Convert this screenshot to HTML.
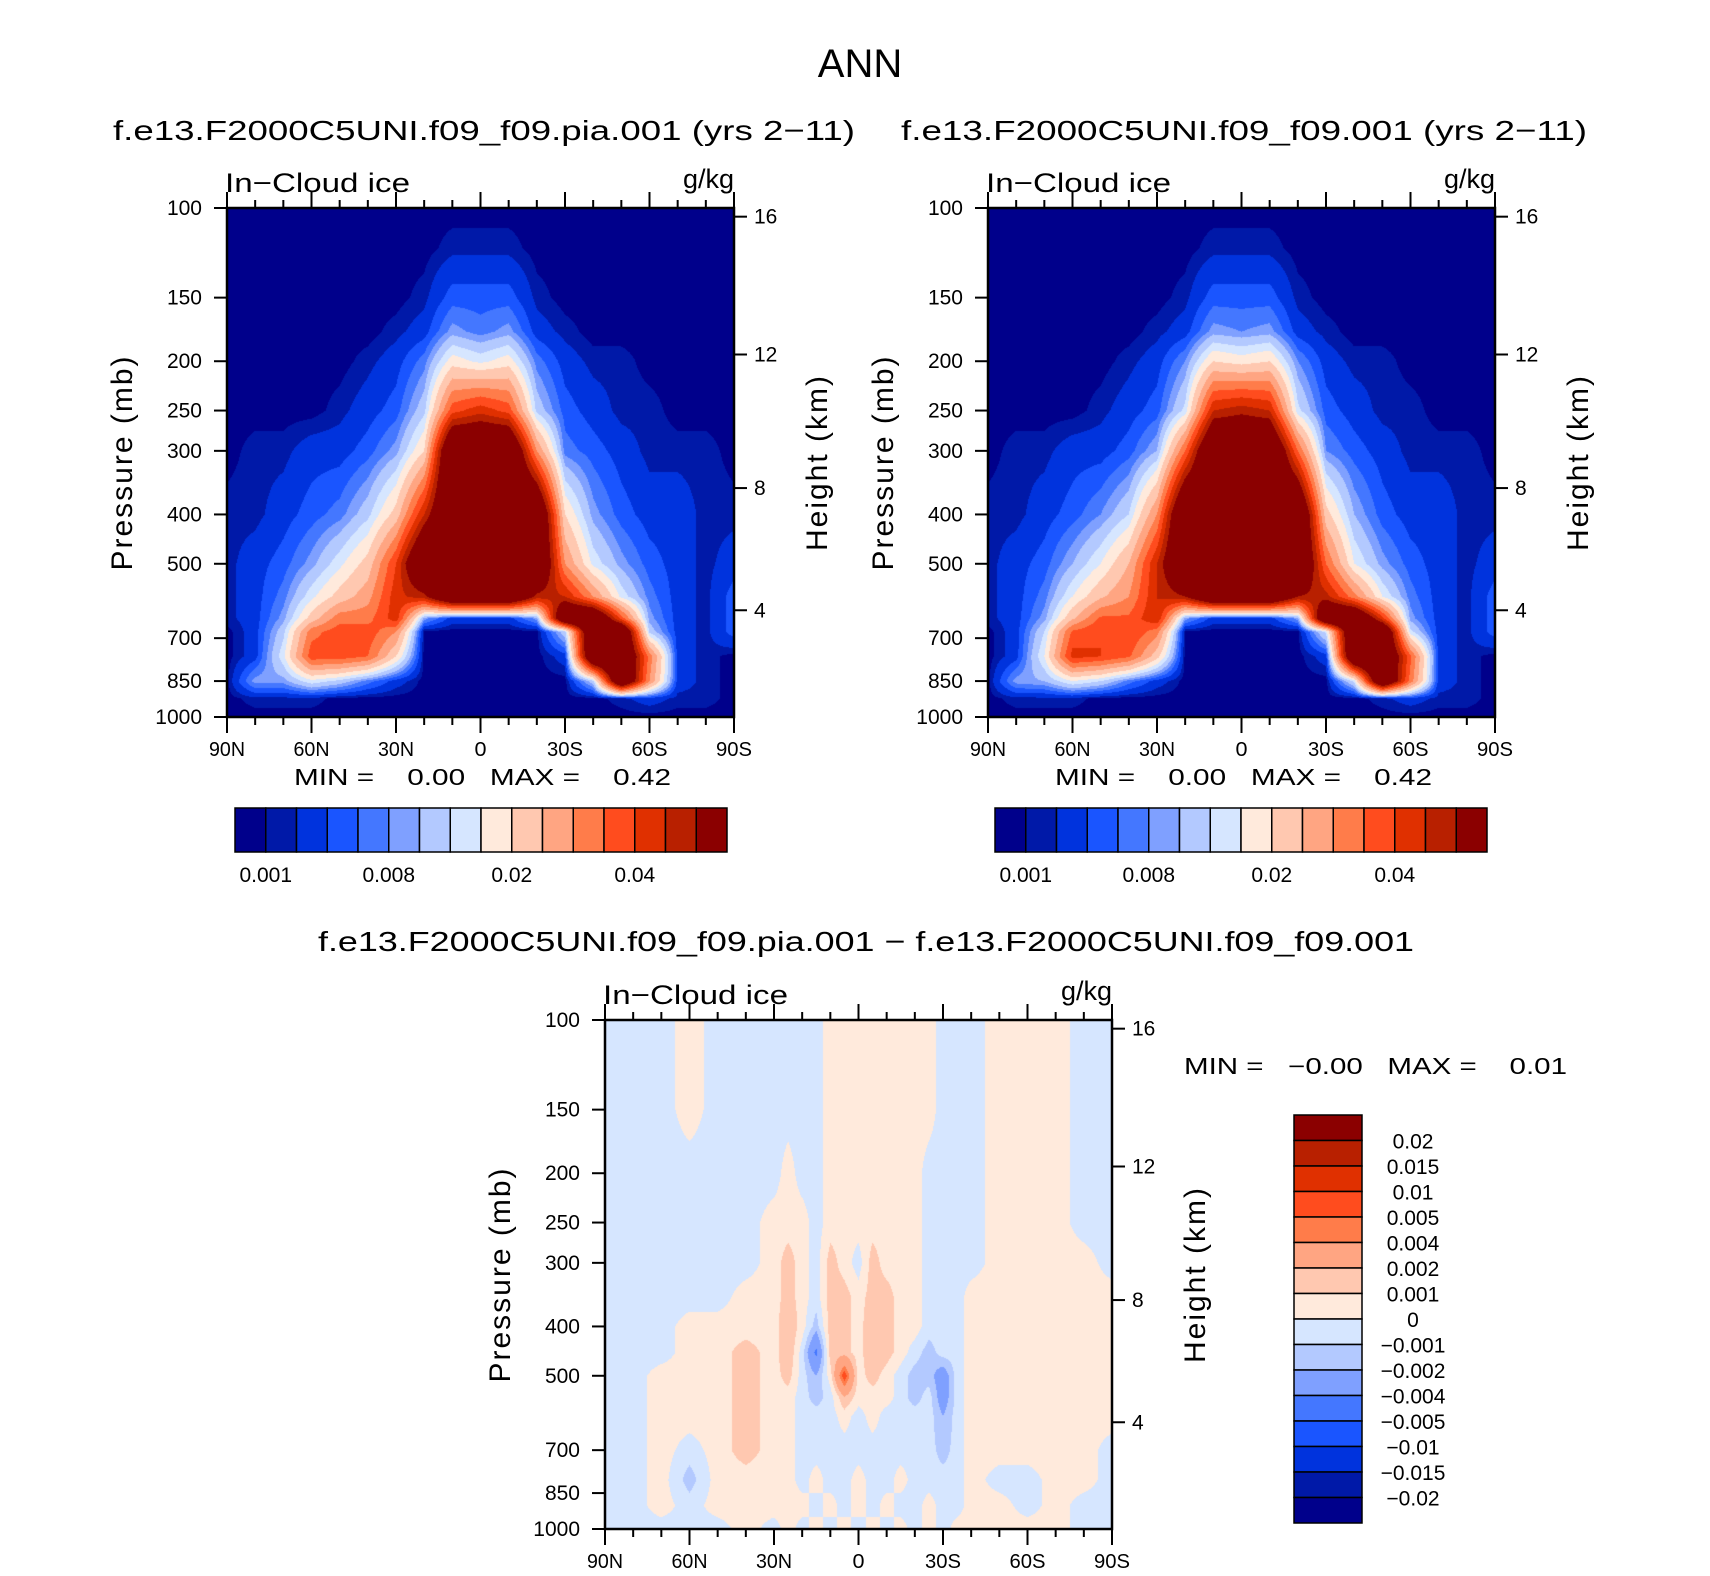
<!DOCTYPE html>
<html><head><meta charset="utf-8">
<style>
html,body{margin:0;padding:0;background:#fff;}
#root{position:relative;width:1710px;height:1576px;overflow:hidden;font-family:"Liberation Sans",sans-serif;}
canvas{position:absolute;}
svg{position:absolute;left:0;top:0;}
</style></head>
<body>
<div id="root">
<canvas id="c1" width="507" height="509" style="left:227px;top:208px"></canvas>
<canvas id="c2" width="507" height="509" style="left:988px;top:208px"></canvas>
<canvas id="c3" width="507" height="509" style="left:605px;top:1020px"></canvas>
<svg id="ov" width="1710" height="1576"></svg>
</div>
<script>
// ---------- data ----------
const palette = ["#00008b","#0019a8","#0033dd","#1a55ff","#4477ff","#7fa0ff","#b3c9ff","#d6e6ff","#ffeadc","#ffc8b0","#ffa582","#ff7c4a","#ff4c1e","#e03000","#b82000","#8b0000"];
const levelsMain = [0.001,0.002,0.004,0.006,0.008,0.01,0.013,0.016,0.02,0.025,0.03,0.035,0.04,0.045,0.05];
const levelsDiff = [-0.02,-0.015,-0.01,-0.005,-0.004,-0.002,-0.001,0,0.001,0.002,0.004,0.005,0.01,0.015,0.02];
const mainTickLabels = ["0.001","0.008","0.02","0.04"];
const mainTickIdx = [1,5,9,13];
const diffLabels = ["0.02","0.015","0.01","0.005","0.004","0.002","0.001","0","\u22120.001","\u22120.002","\u22120.004","\u22120.005","\u22120.01","\u22120.015","\u22120.02"];
const latTickLabels = ["90N","60N","30N","0","30S","60S","90S"];
const latTicks = [90,60,30,0,-30,-60,-90];
const presTicks = [100,150,200,250,300,400,500,700,850,1000];
const heightTicks = [16,12,8,4];
const heightPres = [104,194,355,617];
const latsMain = [90,80,70,60,50,40,30,20,10,0,-10,-20,-30,-40,-50,-60,-70,-80,-90];
const presMain = [100,120,150,175,200,250,300,400,500,580,640,680,760,850,920,1000];
const z=0.0005;
const fieldPia = [
[z,z,z,z,z,z,z,z,z,z,z,z,z,z,z,z,z,z,z],
[z,z,z,z,z,z,z,z,0.0015,0.0015,0.0015,z,z,z,z,z,z,z,z],
[z,z,z,z,z,z,z,0.0015,0.005,0.005,0.005,0.0015,z,z,z,z,z,z,z],
[z,z,z,z,z,z,0.0015,0.003,0.009,0.007,0.009,0.003,0.0015,z,z,z,z,z,z],
[z,z,z,z,z,0.0015,0.003,0.007,0.018,0.015,0.018,0.007,0.003,0.0015,0.0015,z,z,z,z],
[z,z,z,z,0.0015,0.003,0.005,0.012,0.038,0.043,0.038,0.012,0.005,0.003,0.0015,0.0015,z,z,z],
[z,0.0015,0.0015,0.003,0.003,0.005,0.009,0.02,0.07,0.07,0.07,0.03,0.007,0.005,0.003,0.0015,0.0015,0.0015,z],
[0.0015,0.0015,0.003,0.005,0.007,0.012,0.022,0.045,0.07,0.07,0.07,0.07,0.02,0.009,0.005,0.003,0.003,0.0015,0.0015],
[0.0015,0.003,0.005,0.009,0.015,0.022,0.04,0.07,0.07,0.07,0.07,0.07,0.03,0.015,0.009,0.005,0.003,0.0015,0.003],
[0.0015,0.003,0.007,0.015,0.022,0.028,0.043,0.048,0.07,0.07,0.07,0.048,0.045,0.03,0.015,0.007,0.003,0.0015,0.005],
[0.0015,0.003,0.009,0.022,0.033,0.033,0.043,0.009,0.003,0.003,0.003,0.009,0.07,0.07,0.038,0.009,0.003,0.0015,0.005],
[z,0.003,0.012,0.033,0.038,0.038,0.03,z,z,z,z,z,0.012,0.07,0.07,0.012,0.003,0.0015,0.005],
[z,0.003,0.015,0.038,0.038,0.035,0.02,z,z,z,z,z,0.003,0.07,0.07,0.033,0.003,0.0015,z],
[z,0.009,0.009,0.015,0.012,0.007,0.003,z,z,z,z,z,z,0.012,0.07,0.03,0.003,0.0015,z],
[z,0.0015,0.0015,0.0015,z,z,z,z,z,z,z,z,z,z,0.0015,0.003,0.0015,0.0015,z],
[z,z,z,z,z,z,z,z,z,z,z,z,z,z,z,z,z,z,z]];
const fieldCtl = [
[z,z,z,z,z,z,z,z,z,z,z,z,z,z,z,z,z,z,z],
[z,z,z,z,z,z,z,z,0.0015,0.0015,0.0015,z,z,z,z,z,z,z,z],
[z,z,z,z,z,z,z,0.0015,0.005,0.005,0.005,0.0015,z,z,z,z,z,z,z],
[z,z,z,z,z,z,0.0015,0.003,0.009,0.008,0.009,0.003,0.0015,z,z,z,z,z,z],
[z,z,z,z,z,0.0015,0.003,0.008,0.02,0.018,0.02,0.008,0.003,0.0015,0.0015,z,z,z,z],
[z,z,z,z,0.0015,0.003,0.005,0.014,0.045,0.048,0.045,0.014,0.005,0.003,0.0015,0.0015,z,z,z],
[z,0.0015,0.0015,0.003,0.003,0.005,0.01,0.035,0.07,0.07,0.07,0.035,0.008,0.005,0.003,0.0015,0.0015,0.0015,z],
[0.0015,0.0015,0.003,0.005,0.008,0.013,0.03,0.07,0.07,0.07,0.07,0.07,0.022,0.01,0.005,0.003,0.003,0.0015,0.0015],
[0.0015,0.003,0.005,0.01,0.016,0.025,0.045,0.07,0.07,0.07,0.07,0.07,0.035,0.016,0.009,0.005,0.003,0.0015,0.003],
[0.0015,0.003,0.007,0.016,0.024,0.03,0.045,0.05,0.07,0.07,0.07,0.05,0.047,0.032,0.016,0.007,0.003,0.0015,0.005],
[0.0015,0.003,0.009,0.024,0.036,0.036,0.045,0.009,0.003,0.003,0.003,0.009,0.07,0.07,0.042,0.009,0.003,0.0015,0.005],
[z,0.003,0.013,0.036,0.04,0.04,0.032,z,z,z,z,z,0.014,0.07,0.07,0.014,0.003,0.0015,0.005],
[z,0.003,0.016,0.042,0.04,0.036,0.022,z,z,z,z,z,0.003,0.07,0.07,0.036,0.003,0.0015,z],
[z,0.009,0.01,0.016,0.013,0.007,0.003,z,z,z,z,z,z,0.014,0.07,0.033,0.003,0.0015,z],
[z,0.0015,0.0015,0.0015,z,z,z,z,z,z,z,z,z,z,0.0015,0.003,0.0015,0.0015,z],
[z,z,z,z,z,z,z,z,z,z,z,z,z,z,z,z,z,z,z]];
const latsDiff = [90,80,70,60,50,40,30,25,20,15,10,5,0,-5,-10,-15,-20,-25,-30,-35,-40,-50,-60,-70,-80,-90];
const presDiff = [100,150,200,250,300,350,400,450,500,550,600,700,800,900,1000];
const b=-0.0005, w=0.0005;
const fieldDiff = [
[b,b,b,w,b,b,b,b,b,b,w,w,w,w,w,w,w,w,b,b,b,w,w,w,b,b],
[b,b,b,w,b,b,b,b,b,b,w,w,w,w,w,w,w,w,b,b,b,w,w,w,b,b],
[b,b,b,b,b,b,b,w,b,b,w,w,w,w,w,w,w,b,b,b,b,w,w,w,b,b],
[b,b,b,b,b,b,w,w,w,b,w,w,w,w,w,w,w,b,b,b,b,w,w,w,b,b],
[b,b,b,b,b,b,w,0.0015,w,b,0.0015,w,b,0.0015,w,w,w,b,b,b,b,w,w,w,w,b],
[b,b,b,b,b,w,w,0.0015,w,b,0.0015,0.0015,w,0.0015,0.0015,w,w,b,b,b,w,w,w,w,w,w],
[b,b,b,w,w,w,w,0.002,w,-0.0015,0.0015,0.0015,w,0.002,0.0015,w,w,b,b,b,w,w,w,w,w,w],
[b,b,b,w,w,0.0015,w,0.002,b,-0.0045,0.0015,0.0015,w,0.002,0.0015,w,b,-0.0015,b,b,w,w,w,w,w,w],
[b,b,w,w,w,0.0015,w,0.0015,b,-0.002,w,0.006,w,0.0015,w,b,-0.0015,-0.0015,-0.003,b,w,w,w,w,w,w],
[b,b,w,w,w,0.0015,w,w,b,-0.0015,b,0.002,w,w,w,b,-0.0015,b,-0.003,b,w,w,w,w,w,w],
[b,b,w,w,w,0.0015,w,w,b,b,b,w,b,w,b,b,b,b,-0.002,b,w,w,w,w,w,w],
[b,b,w,b,w,0.0015,w,w,b,b,b,b,b,b,b,b,b,b,-0.0015,b,w,w,w,w,w,b],
[b,b,w,-0.0015,w,w,w,w,b,w,b,b,w,b,b,w,b,b,b,b,w,b,b,w,w,b],
[b,b,w,b,w,w,w,w,w,b,w,b,w,b,w,b,b,w,b,b,w,w,b,w,b,b],
[b,b,b,b,b,w,b,w,b,w,b,w,b,w,b,w,b,w,b,w,w,w,w,w,b,b]];

// ---------- rendering ----------
function findIdx(arr, v){
  const inc = arr[arr.length-1] > arr[0];
  for(let i=0;i<arr.length-1;i++){
    const a=arr[i], c=arr[i+1];
    if(inc ? (v>=a && v<=c) : (v<=a && v>=c)) return [i,(v-a)/(c-a)];
  }
  return [arr.length-2,1];
}
function hexToRgb(h){return [parseInt(h.substr(1,2),16),parseInt(h.substr(3,2),16),parseInt(h.substr(5,2),16)];}
const palRgb = palette.map(hexToRgb);
function drawField(id, lats, pres, field, levels){
  const cv=document.getElementById(id), ctx=cv.getContext('2d');
  const W=cv.width, H=cv.height, img=ctx.createImageData(W,H);
  const logPres = pres.map(p=>Math.log10(p));
  for(let y=0;y<H;y++){
    const lp = 2 + (y+0.5)/H;
    const [pi,pf]=findIdx(logPres,lp);
    for(let x=0;x<W;x++){
      const lat = 90 - (x+0.5)/W*180;
      const [li,lf]=findIdx(lats,lat);
      const v = (field[pi][li]*(1-lf)+field[pi][li+1]*lf)*(1-pf) + (field[pi+1][li]*(1-lf)+field[pi+1][li+1]*lf)*pf;
      let k=0; while(k<levels.length && v>=levels[k]) k++;
      const c=palRgb[k], o=(y*W+x)*4;
      img.data[o]=c[0];img.data[o+1]=c[1];img.data[o+2]=c[2];img.data[o+3]=255;
    }
  }
  ctx.putImageData(img,0,0);
}
drawField('c1',latsMain,presMain,fieldPia,levelsMain);
drawField('c2',latsMain,presMain,fieldCtl,levelsMain);
drawField('c3',latsDiff,presDiff,fieldDiff,levelsDiff);

// ---------- svg overlay ----------
const NS='http://www.w3.org/2000/svg';
const ov=document.getElementById('ov');
function el(tag, attrs, parent){
  const e=document.createElementNS(NS,tag);
  for(const k in attrs) e.setAttribute(k,attrs[k]);
  (parent||ov).appendChild(e); return e;
}
function txt(s,x,y,size,anchor,name,extra){
  const t=el('text',Object.assign({x:x,y:y,'font-size':size,'text-anchor':anchor||'start','font-family':'Liberation Sans, sans-serif',fill:'#000'},extra||{}));
  t.textContent=s;
  
  
  return t;
}
function axes(L,T,Wd,Ht,tag){
  const g=el('g',{});
  
  
  const xs=lat=>L+(90-lat)/180*Wd;
  const ys=p=>T+Math.log10(p/100)*Ht;
  el('rect',{x:L,y:T,width:Wd,height:Ht,fill:'none',stroke:'#000','stroke-width':2.5},g);
  for(let lat=90;lat>=-90;lat-=10){
    const major = lat%30===0, len=major?16:8, x=xs(lat);
    el('line',{x1:x,y1:T+Ht,x2:x,y2:T+Ht+len,stroke:'#000','stroke-width':2},g);
    el('line',{x1:x,y1:T,x2:x,y2:T-len,stroke:'#000','stroke-width':2},g);
  }
  latTicks.forEach((lat,i)=>{
    g.appendChild(txt(latTickLabels[i],xs(lat),T+Ht+39,20,'middle','x-tick-label',{textLength:latTickLabels[i].length*12,lengthAdjust:'spacingAndGlyphs'}));
  });
  presTicks.forEach(p=>{
    const y=ys(p);
    el('line',{x1:L,y1:y,x2:L-13,y2:y,stroke:'#000','stroke-width':2},g);
    g.appendChild(txt(String(p),L-25,y+7,21,'end','y-tick-label'));
  });
  heightTicks.forEach((h,i)=>{
    const y=ys(heightPres[i]);
    el('line',{x1:L+Wd,y1:y,x2:L+Wd+13,y2:y,stroke:'#000','stroke-width':2},g);
    g.appendChild(txt(String(h),L+Wd+20,y+7,21,'start','height-tick-label'));
  });
  g.appendChild(txt('In\u2212Cloud ice',L-2,T-16,27,'start','variable-label',{textLength:185,lengthAdjust:'spacingAndGlyphs'}));
  g.appendChild(txt('g/kg',L+Wd,T-20,27,'end','units-label'));
  const cy=T+Ht/2;
  g.appendChild(txt('Pressure (mb)',L-95,cy,30,'middle','y-axis-title',{transform:'rotate(-90 '+(L-95)+' '+cy+')','letter-spacing':'2'}));
  g.appendChild(txt('Height (km)',L+Wd+93,cy,30,'middle','right-axis-title',{transform:'rotate(-90 '+(L+Wd+93)+' '+cy+')','letter-spacing':'2'}));
}
txt('ANN',860,77,40,'middle','figure-title');
txt('f.e13.F2000C5UNI.f09_f09.pia.001 (yrs 2\u221211)',484,140,28,'middle','panel1-title',{textLength:742,lengthAdjust:'spacingAndGlyphs'});
txt('f.e13.F2000C5UNI.f09_f09.001 (yrs 2\u221211)',1244,140,28,'middle','panel2-title',{textLength:686,lengthAdjust:'spacingAndGlyphs'});
txt('f.e13.F2000C5UNI.f09_f09.pia.001 \u2212 f.e13.F2000C5UNI.f09_f09.001',866,951,28,'middle','difference-title',{textLength:1096,lengthAdjust:'spacingAndGlyphs'});
axes(227,208,507,509,'panel1');
axes(988,208,507,509,'panel2');
axes(605,1020,507,509,'panel3');
const sp='\u00a0';
txt('MIN ='+sp.repeat(4)+'0.00'+sp.repeat(3)+'MAX ='+sp.repeat(4)+'0.42',294,785,23,'start','panel1-min-max',{textLength:377,lengthAdjust:'spacingAndGlyphs'});
txt('MIN ='+sp.repeat(4)+'0.00'+sp.repeat(3)+'MAX ='+sp.repeat(4)+'0.42',1055,785,23,'start','panel2-min-max',{textLength:377,lengthAdjust:'spacingAndGlyphs'});
txt('MIN ='+sp.repeat(3)+'\u22120.00'+sp.repeat(3)+'MAX ='+sp.repeat(4)+'0.01',1184,1074,23,'start','panel3-min-max',{textLength:383,lengthAdjust:'spacingAndGlyphs'});
function hbar(L,T,Wd,Ht,name){
  const g=el('g',{});
  
  
  const bw=Wd/palette.length;
  palette.forEach((c,i)=>{
    const r=el('rect',{x:L+i*bw,y:T,width:bw,height:Ht,fill:c,stroke:'#000','stroke-width':1.5},g);
    
    
  });
  mainTickIdx.forEach((k,i)=>{ g.appendChild(txt(mainTickLabels[i],L+k*bw,T+Ht+30,21,'middle','colorbar-label')); });
}
hbar(235,808,492,44,'colorbar-panel1');
hbar(995,808,492,44,'colorbar-panel2');
(function(){
  const L=1294,T=1115,Wd=68,Ht=408;
  const g=el('g',{});
  
  
  const bh=Ht/palette.length;
  for(let i=0;i<palette.length;i++){
    const r=el('rect',{x:L,y:T+i*bh,width:Wd,height:bh,fill:palette[palette.length-1-i],stroke:'#000','stroke-width':1.5},g);
    
    
  }
  diffLabels.forEach((s,i)=>{ g.appendChild(txt(s,1413,T+(i+1)*bh+8,21,'middle','colorbar-label')); });
})();
</script>
</body></html>
